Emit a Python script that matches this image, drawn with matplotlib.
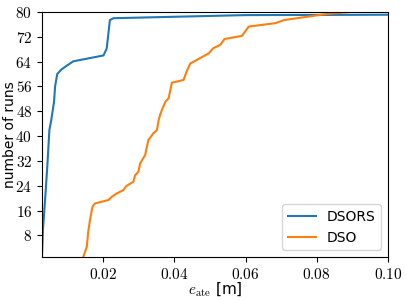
import matplotlib
matplotlib.use('Agg')
import matplotlib.pyplot as plt

plt.rcParams['mathtext.fontset'] = 'cm'

# DSORS: ошибка / число прогонов
dsors_err = [0.0028, 0.0031, 0.0036, 0.0043, 0.0049, 0.0054, 0.0062, 0.0065, 0.0071,
             0.0083, 0.0098, 0.0116, 0.0201, 0.0210, 0.0219, 0.0229, 0.06, 0.40]
dsors_runs = [1, 10, 18, 30, 42, 45, 51, 56, 60,
              61.5, 62.7, 64.1, 66, 68.2, 77.4, 78, 79, 80]

# DSO
dso_err = [0.0144, 0.0154, 0.0158, 0.0163, 0.0170, 0.0177, 0.0215, 0.0224, 0.0238,
           0.0257, 0.0265, 0.0285, 0.0290, 0.0299, 0.0304, 0.0318, 0.0327, 0.0341,
           0.0351, 0.0356, 0.0360, 0.0365, 0.0375, 0.0384, 0.0393, 0.0426, 0.0434,
           0.0445, 0.0497, 0.0509, 0.0529, 0.0541, 0.0590, 0.0609, 0.0684, 0.0708,
           0.0830, 0.0896]
dso_runs = [1, 4.3, 9.1, 12.9, 17.2, 18.3, 19.4, 20.4, 21.5,
            22.6, 23.9, 25.3, 27.4, 28.5, 31.2, 33.9, 38.7, 40.9,
            41.9, 45.2, 46.8, 48.4, 51.1, 52.2, 57.2, 58.1, 60.7,
            63.4, 66.7, 68.3, 69.4, 71.3, 72.3, 75.3, 76.4, 77.4,
            79.4, 80]

x_ticks = [0.02, 0.04, 0.06, 0.08, 0.10]
y_ticks = [8, 16, 24, 32, 40, 48, 56, 64, 72, 80]

fig = plt.figure(figsize=(4.07, 3.0), dpi=100)
ax = fig.add_axes([0.103, 0.143, 0.85, 0.817])

ax.plot(dsors_err, dsors_runs, color='#1f77b4', lw=1.5, label='DSORS')
ax.plot(dso_err, dso_runs, color='#ff7f0e', lw=1.5, label='DSO')

ax.set_xlim(0.0028, 0.10)
ax.set_ylim(1, 80)
ax.set_xticks(x_ticks)
ax.set_xticklabels(['$%.2f$' % v for v in x_ticks], fontsize=11)
ax.set_yticks(y_ticks)
ax.set_yticklabels(['$%d$' % v for v in y_ticks], fontsize=11)

ax.set_xlabel(r'$e_{\mathrm{ate}}$ [m]', fontsize=11, labelpad=-1)
ax.set_ylabel('number of runs', fontsize=10, labelpad=-1)
ax.legend(loc='lower right', fontsize=10)

fig.savefig('out.png', dpi=100)
